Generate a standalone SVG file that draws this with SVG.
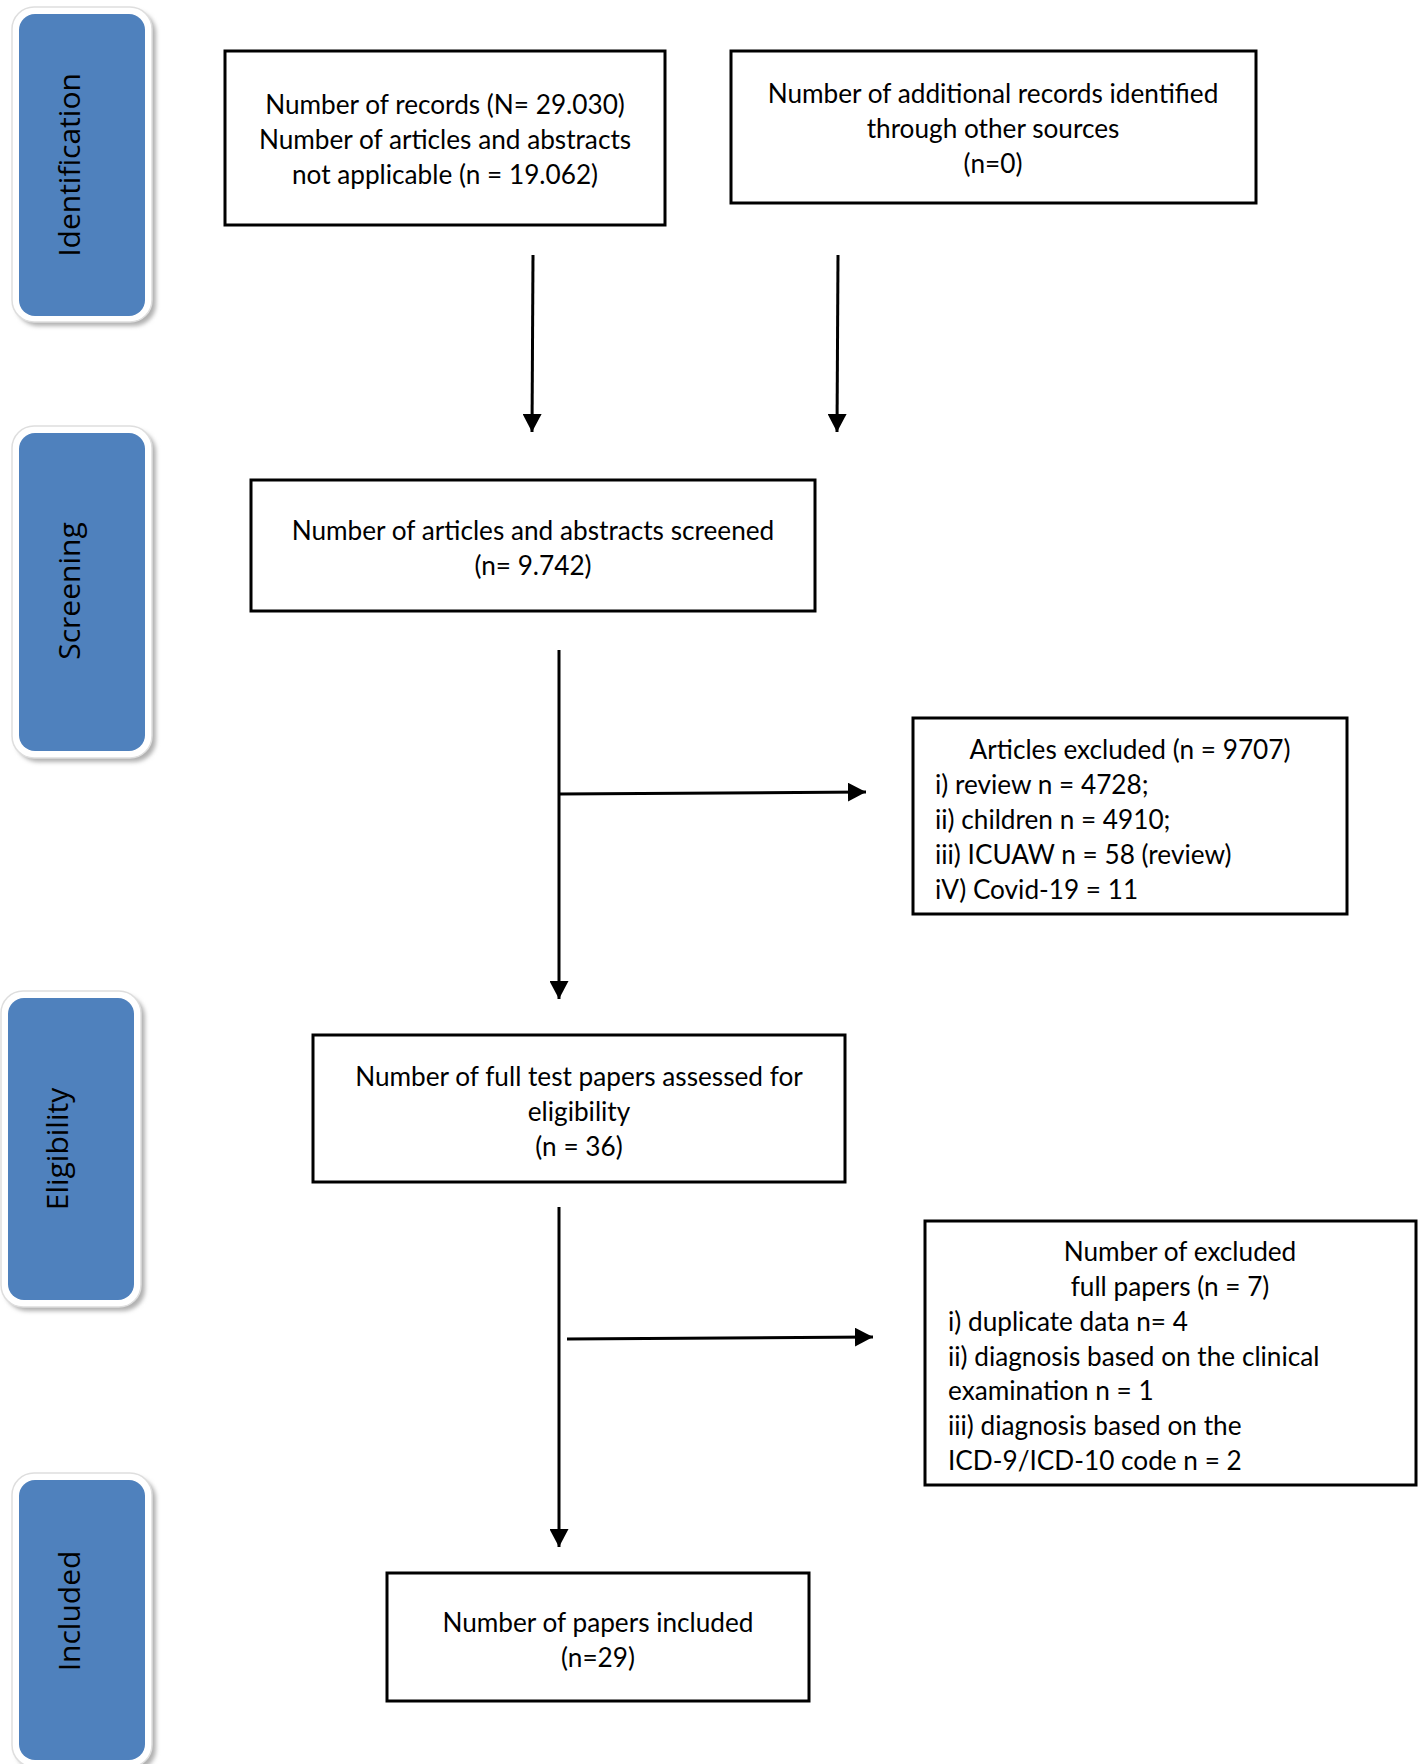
<svg xmlns="http://www.w3.org/2000/svg" width="1423" height="1764" viewBox="0 0 1423 1764">
<defs>
<filter id="sh" x="-20%" y="-20%" width="140%" height="140%"><feGaussianBlur stdDeviation="2"/></filter>
<marker id="ah" markerUnits="userSpaceOnUse" markerWidth="19" markerHeight="19" refX="18" refY="9.5" orient="auto"><path d="M0,0 L18,9.5 L0,19 Z" fill="#000"/></marker>
</defs>
<style>
.box{fill:#fff;stroke:#000;stroke-width:3}
.t{font-family:Lato,"Liberation Sans",sans-serif;font-size:26.2px;fill:#000}
.c{text-anchor:middle}
.side-sh{fill:#b0b0b0;filter:url(#sh)}
.side-out{fill:#fff;stroke:#dedede;stroke-width:1.5}
.side-in{fill:#4F81BD}
.lbl{font-family:"Open Sans","DejaVu Sans",sans-serif;font-size:30px;fill:#000;text-anchor:middle}
.con{fill:none;stroke:#000;stroke-width:3}
</style>
<rect width="1423" height="1764" fill="#fff"/>

<g id="side-identification">
<rect class="side-sh" x="16" y="11" width="140" height="315" rx="22"/>
<rect class="side-out" x="12" y="7" width="140" height="315" rx="22"/>
<rect class="side-in" x="19" y="14" width="126" height="302" rx="16"/>
<text class="lbl" transform="translate(80,165) rotate(-90)">Identification</text>
</g>
<g id="side-screening">
<rect class="side-sh" x="16" y="430" width="140" height="332" rx="22"/>
<rect class="side-out" x="12" y="426" width="140" height="332" rx="22"/>
<rect class="side-in" x="19" y="433" width="126" height="318" rx="16"/>
<text class="lbl" transform="translate(80,591) rotate(-90)">Screening</text>
</g>
<g id="side-eligibility">
<rect class="side-sh" x="5" y="995" width="140" height="316" rx="22"/>
<rect class="side-out" x="1" y="991" width="140" height="316" rx="22"/>
<rect class="side-in" x="8" y="998" width="126" height="302" rx="16"/>
<text class="lbl" transform="translate(68,1149) rotate(-90)">Eligibility</text>
</g>
<g id="side-included">
<rect class="side-sh" x="16" y="1477" width="140" height="294" rx="22"/>
<rect class="side-out" x="12" y="1473" width="140" height="294" rx="22"/>
<rect class="side-in" x="19" y="1480" width="126" height="280" rx="16"/>
<text class="lbl" transform="translate(80,1611) rotate(-90)">Included</text>
</g>

<g id="records">
<rect class="box" x="225" y="51" width="440" height="174"/>
<text class="t c" x="445" y="113.5">Number of records (N= 29.030)</text>
<text class="t c" x="445" y="148.5">Number of articles and abstracts</text>
<text class="t c" x="445" y="183.5">not applicable (n = 19.062)</text>
</g>
<g id="additional">
<rect class="box" x="731" y="51" width="525" height="152"/>
<text class="t c" x="993" y="102.5">Number of additional records identified</text>
<text class="t c" x="993" y="137.5">through other sources</text>
<text class="t c" x="993" y="172.5">(n=0)</text>
</g>
<g id="screened">
<rect class="box" x="251" y="480" width="564" height="131"/>
<text class="t c" x="533" y="539.5">Number of articles and abstracts screened</text>
<text class="t c" x="533" y="574.5">(n= 9.742)</text>
</g>
<g id="excluded-articles">
<rect class="box" x="913" y="718" width="434" height="196"/>
<text class="t c" x="1130" y="758.5">Articles excluded (n = 9707)</text>
<text class="t" x="935" y="793.5">i) review n = 4728;</text>
<text class="t" x="935" y="828.5">ii) children n = 4910;</text>
<text class="t" x="935" y="863.5">iii) ICUAW n = 58 (review)</text>
<text class="t" x="935" y="898.5">iV) Covid-19 = 11</text>
</g>
<g id="eligibility">
<rect class="box" x="313" y="1035" width="532" height="147"/>
<text class="t c" x="579" y="1085.5">Number of full test papers assessed for</text>
<text class="t c" x="579" y="1120.5">eligibility</text>
<text class="t c" x="579" y="1155.5">(n = 36)</text>
</g>
<g id="excluded-full">
<rect class="box" x="925" y="1221" width="491" height="264"/>
<text class="t c" x="1180" y="1260.5">Number of excluded</text>
<text class="t c" x="1170" y="1295.5">full papers (n = 7)</text>
<text class="t" x="948" y="1330.5">i) duplicate data n= 4</text>
<text class="t" x="948" y="1365.5">ii) diagnosis based on the clinical</text>
<text class="t" x="948" y="1399.5">examination n = 1</text>
<text class="t" x="948" y="1434.5">iii) diagnosis based on the</text>
<text class="t" x="948" y="1469.5">ICD-9/ICD-10 code n = 2</text>
</g>
<g id="included">
<rect class="box" x="387" y="1573" width="422" height="128"/>
<text class="t c" x="598" y="1631.5">Number of papers included</text>
<text class="t c" x="598" y="1666.5">(n=29)</text>
</g>

<g id="connectors">
<path class="con" d="M533,255 L532,432" marker-end="url(#ah)"/>
<path class="con" d="M838,255 L837,432" marker-end="url(#ah)"/>
<path class="con" d="M559,650 L559,999" marker-end="url(#ah)"/>
<path class="con" d="M559,794 L866,792" marker-end="url(#ah)"/>
<path class="con" d="M559,1207 L559,1547" marker-end="url(#ah)"/>
<path class="con" d="M567,1339 L873,1337" marker-end="url(#ah)"/>
</g>
</svg>
